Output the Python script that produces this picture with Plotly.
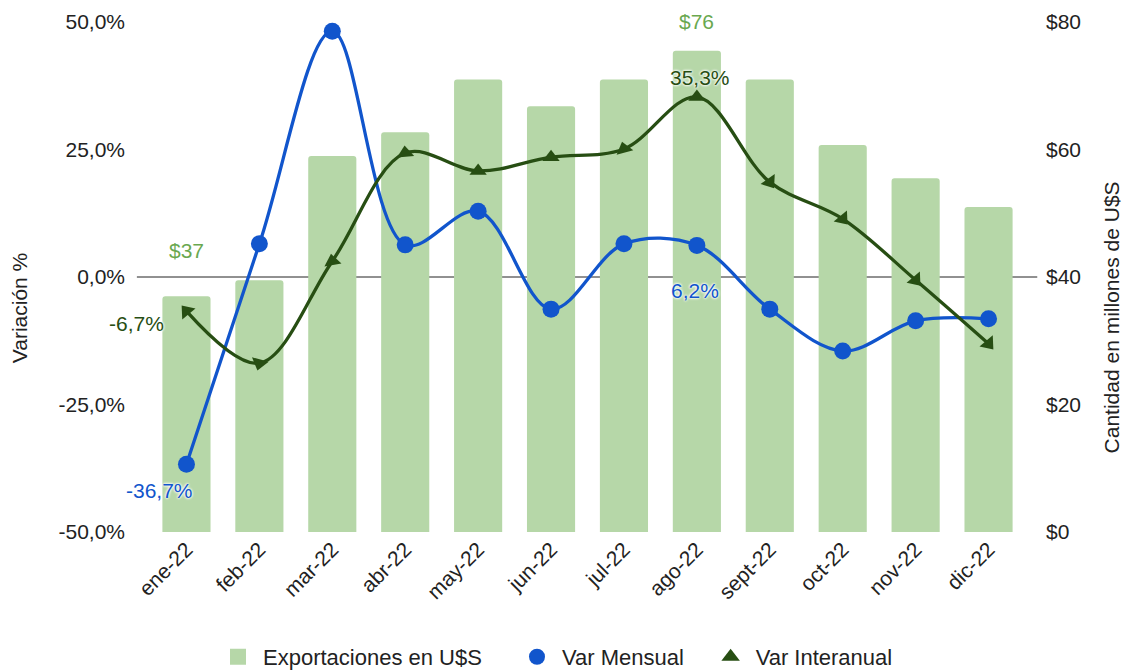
import plotly.graph_objects as go

meses = ["ene-22", "feb-22", "mar-22", "abr-22", "may-22", "jun-22",
         "jul-22", "ago-22", "sept-22", "oct-22", "nov-22", "dic-22"]
exportaciones = [37, 39.5, 59, 62.7, 71, 66.8, 71, 75.5, 71, 60.7, 55.5, 51]
var_mensual = [-36.7, 6.5, 48.2, 6.3, 12.9, -6.3, 6.5, 6.2, -6.3, -14.5, -8.6, -8.2]
var_interanual = [-6.7, -16.9, 3.1, 24.3, 20.8, 23.5, 25.1, 35.3, 18.6, 11.4, -0.6, -13.1]

pct_ticks = [-50, -25, 0, 25, 50]
pct_labels = ["-50,0%", "-25,0%", "0,0%", "25,0%", "50,0%"]
usd_ticks = [0, 20, 40, 60, 80]
usd_labels = ["$0", "$20", "$40", "$60", "$80"]

# orientation of the triangle markers (degrees, clockwise)
tri_angles = [-40, 195, -10, -5, 0, 0, -15, 0, 145, 140, 140, 140]

C_BAR = "#b6d7a8"
C_BLUE = "#1155cc"
C_DG = "#274e13"
C_LBL = "#6aa84f"
C_TXT = "#222222"
FONT = "Liberation Sans, Arial, sans-serif"

fig = go.Figure()
fig.add_trace(go.Bar(x=meses, y=exportaciones, name="Exportaciones en U$S",
                     marker=dict(color=C_BAR, line=dict(width=0)),
                     yaxis="y", width=0.66, showlegend=False))
fig.add_trace(go.Scatter(x=meses, y=var_mensual, name="Var Mensual", yaxis="y2",
                         mode="lines+markers", showlegend=False,
                         line=dict(color=C_BLUE, width=3.3, shape="spline", smoothing=1),
                         marker=dict(symbol="circle", size=17, color=C_BLUE)))
fig.add_trace(go.Scatter(x=meses, y=var_interanual, name="Var Interanual", yaxis="y2",
                         mode="lines+markers", showlegend=False,
                         line=dict(color=C_DG, width=3.3, shape="spline", smoothing=1),
                         marker=dict(symbol="triangle-up", size=15, color=C_DG,
                                     angle=tri_angles)))

# legend entries (symbols only), one legend each so they can be spaced like the original
legend_items = [("Exportaciones en U$S", "square", C_BAR, "legend"),
                ("Var Mensual", "circle", C_BLUE, "legend2"),
                ("Var Interanual", "triangle-up", C_DG, "legend3")]
for name, sym, col, lg in legend_items:
    fig.add_trace(go.Scatter(x=[meses[0]], y=[None], name=name, mode="markers",
                             marker=dict(symbol=sym, color=col, size=18),
                             yaxis="y2", showlegend=True, legend=lg, hoverinfo="skip"))

halo = "0px 0px 3px white, 0px 0px 3px white, 0px 0px 2px white"
ann = [
    (meses[0], exportaciones[0], "y", "$37", C_LBL, 0, 46),
    (meses[7], exportaciones[7], "y", "$76", C_LBL, 0, 29),
    (meses[0], var_interanual[0], "y2", "-6,7%", C_DG, -50, -12),
    (meses[7], var_interanual[7], "y2", "35,3%", C_DG, 3, 19),
    (meses[0], var_mensual[0], "y2", "-36,7%", C_BLUE, -27, -26),
    (meses[7], var_mensual[7], "y2", "6,2%", C_BLUE, -2, -45),
]
for x, y, yref, t, c, xs, ys in ann:
    fig.add_annotation(x=x, y=y, xref="x", yref=yref, text=t, showarrow=False,
                       xshift=xs, yshift=ys,
                       font=dict(family=FONT, size=21, color=c, shadow=halo))

# axis titles
fig.add_annotation(text="Variación %", xref="paper", yref="paper", x=-0.149, y=0.44,
                   xanchor="center", yanchor="middle",
                   textangle=-90, showarrow=False, font=dict(size=21, color=C_TXT))
fig.add_annotation(text="Cantidad en millones de U$S", xref="paper", yref="paper",
                   x=1.099, y=0.42, xanchor="center", yanchor="middle",
                   textangle=-90, showarrow=False,
                   font=dict(size=21, color=C_TXT))

fig.add_shape(type="line", xref="paper", yref="y2", x0=-0.015, x1=1.014, y0=0, y1=0,
              line=dict(color="#222222", width=1), layer="below")

leg_common = dict(orientation="h", xanchor="left", y=-0.245, yanchor="middle",
                  font=dict(size=22, color=C_TXT), itemsizing="trace", itemwidth=40,
                  bgcolor="rgba(0,0,0,0)", borderwidth=0)

fig.update_layout(
    width=1125, height=671,
    margin=dict(l=150, r=100, t=22, b=139, autoexpand=False),
    paper_bgcolor="white", plot_bgcolor="white",
    font=dict(family=FONT, size=21, color=C_TXT),
    barcornerradius=3,
    showlegend=True,
    legend=dict(x=0.072, **leg_common),
    legend2=dict(x=0.4137, **leg_common),
    legend3=dict(x=0.635, **leg_common),
    xaxis=dict(tickangle=-45, showgrid=False, showline=False, ticks="",
               type="category", categoryorder="array", categoryarray=meses,
               range=[-0.5, len(meses) - 0.5], fixedrange=True,
               automargin=False, tickfont=dict(size=21, color=C_TXT)),
    yaxis=dict(side="right", range=[0, 80], tickmode="array", tickvals=usd_ticks,
               ticktext=usd_labels, showgrid=False, zeroline=False, showline=False,
               automargin=False, ticklabelstandoff=20, fixedrange=True),
    yaxis2=dict(side="left", overlaying="y", range=[-50, 50], tickmode="array",
                tickvals=pct_ticks, ticktext=pct_labels,
                showgrid=False, zeroline=False, showline=False,
                automargin=False, ticklabelstandoff=24, fixedrange=True),
)

fig.write_html("out.html", config={"displayModeBar": False},
               post_script="document.body.style.margin='0';")
